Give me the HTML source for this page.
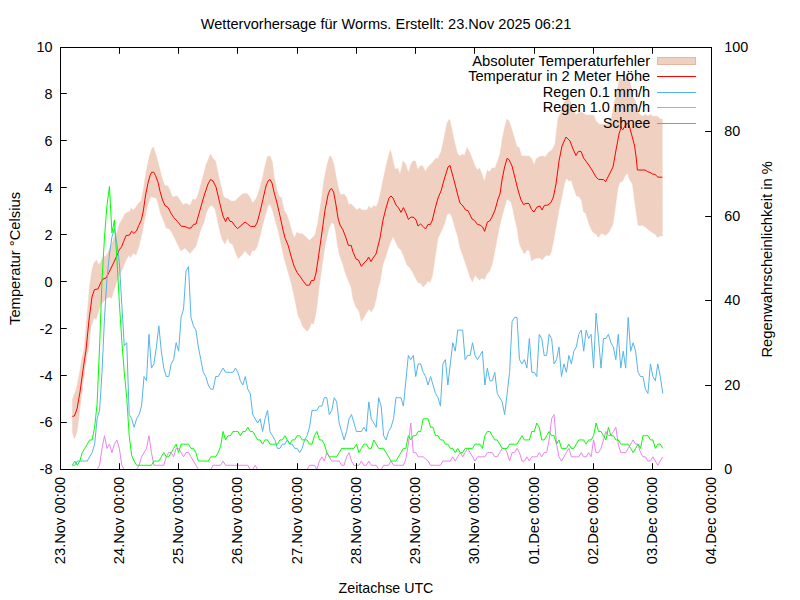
<!DOCTYPE html>
<html><head><meta charset="utf-8"><title>Wettervorhersage</title>
<style>html,body{margin:0;padding:0;background:#fff;overflow:hidden}body{width:800px;height:600px}</style></head>
<body>
<svg width="800" height="600" viewBox="0 0 800 600" style="display:block;font-family:'Liberation Sans',sans-serif;font-size:13.90px" fill="#000">
<rect width="800" height="600" fill="#fff"/>
<polygon points="72.40,399.00 76.00,390.00 79.00,376.00 82.00,358.00 84.00,350.00 89.60,286.00 92.00,270.00 94.00,263.00 96.40,260.00 99.00,265.00 103.00,257.00 106.00,256.00 110.00,248.00 114.00,238.00 116.90,232.50 119.40,223.75 121.90,220.00 124.40,214.40 126.90,212.50 129.40,211.90 131.25,208.10 133.10,210.25 135.60,207.50 138.75,203.10 141.25,200.60 143.10,191.25 145.00,178.75 147.00,167.00 149.00,158.00 151.60,149.00 153.40,147.00 156.00,155.00 158.00,162.00 160.00,170.00 161.90,177.50 164.40,185.00 168.10,186.25 170.00,190.60 172.50,197.25 176.25,196.00 178.10,196.90 180.60,201.25 183.10,205.00 185.00,203.40 186.90,203.75 190.00,205.60 193.00,199.00 195.60,200.00 198.00,195.00 202.00,180.00 206.00,165.00 210.50,154.00 213.00,158.50 215.50,161.00 217.00,168.00 220.00,182.00 223.50,196.00 225.00,198.00 227.50,198.50 231.00,201.00 235.00,201.00 239.00,197.00 243.00,193.60 247.00,193.60 250.00,197.00 252.40,203.00 256.00,199.00 259.00,191.00 262.00,180.00 265.00,166.00 267.60,156.40 270.00,156.00 272.40,162.00 274.00,176.00 277.00,190.00 279.00,196.00 281.60,198.00 284.00,210.00 287.00,215.00 289.60,223.00 292.00,232.00 294.40,238.00 297.00,232.00 299.00,233.60 302.00,233.60 305.00,236.00 309.60,240.60 312.00,238.00 315.00,235.00 318.00,222.00 321.00,202.00 324.00,180.00 327.00,165.00 329.60,156.00 331.60,157.00 334.00,165.00 336.00,176.00 338.40,188.00 340.60,195.00 344.00,194.00 346.40,197.00 349.00,205.00 351.00,203.60 354.00,207.00 357.00,210.00 359.40,208.00 362.00,210.00 367.00,210.00 369.00,206.00 371.00,209.00 373.60,205.60 376.00,207.00 378.00,203.00 380.00,195.00 383.00,180.00 386.00,166.00 389.00,154.00 390.60,150.00 392.40,158.00 395.00,169.00 398.00,168.60 400.00,174.40 403.00,161.00 405.60,164.00 408.40,172.40 411.00,164.00 413.00,161.00 415.40,161.00 418.00,170.00 420.00,166.00 422.40,165.60 425.40,171.60 428.00,167.00 433.00,162.00 435.60,158.40 438.00,158.40 441.00,152.00 444.00,138.00 447.00,123.00 449.60,119.00 452.00,130.00 455.00,144.00 457.60,154.00 460.00,156.00 462.60,154.00 464.40,156.00 467.00,147.40 470.00,153.00 472.40,159.00 475.00,166.00 477.40,170.00 479.40,168.00 482.00,174.00 484.40,181.60 487.40,170.00 489.60,172.00 492.00,168.00 495.00,168.00 498.00,160.00 500.00,154.00 502.00,140.00 505.00,126.00 507.00,119.00 509.00,121.00 512.00,130.00 515.00,140.00 517.00,147.00 519.00,147.00 521.60,156.00 529.00,156.00 531.40,158.00 534.00,165.00 536.40,158.40 540.00,156.50 543.00,156.00 545.00,157.00 549.00,152.00 552.00,150.00 555.00,144.00 558.00,118.00 561.00,112.00 564.00,103.00 567.00,97.00 569.60,99.00 572.00,107.00 576.00,115.00 579.00,112.40 582.00,112.40 586.00,115.00 591.00,115.00 594.00,115.60 596.00,121.00 599.00,124.00 602.00,124.40 605.00,124.40 609.00,124.00 612.00,116.00 615.00,100.00 618.00,86.00 620.00,77.00 622.40,80.00 624.00,82.00 627.00,75.00 629.00,78.00 631.00,86.00 633.00,97.00 635.00,100.00 638.00,112.00 640.00,114.50 642.25,116.25 645.25,114.50 648.25,116.00 650.50,114.25 652.50,116.25 657.50,116.25 660.00,118.75 662.30,119.25 662.40,236.00 660.00,236.00 657.40,237.40 655.00,234.00 653.00,233.00 649.00,230.00 645.00,227.00 642.00,225.00 640.00,226.00 638.00,225.00 635.00,204.00 632.40,184.00 629.60,179.60 627.40,173.00 625.00,176.00 622.40,181.60 620.00,182.00 618.00,188.00 615.00,210.00 613.00,224.00 609.00,232.00 605.60,235.60 603.60,234.00 601.00,233.60 598.40,237.40 596.00,234.00 594.00,233.00 592.00,231.00 589.00,224.00 585.60,213.00 583.60,212.00 581.40,200.00 579.00,196.40 576.60,196.00 574.00,189.00 571.00,180.00 569.00,181.40 566.60,178.00 564.40,184.00 562.00,196.00 559.00,210.00 556.00,227.00 553.40,242.00 551.00,253.00 549.00,256.00 547.00,255.00 544.40,257.00 542.00,260.00 540.00,258.00 537.00,258.00 534.00,259.00 531.60,261.00 529.40,250.40 527.00,250.00 524.40,254.00 522.00,250.00 519.40,244.00 517.00,228.00 515.00,220.00 513.00,210.00 511.00,202.00 507.00,199.00 504.00,209.00 501.00,220.00 498.00,234.00 495.00,250.00 492.00,265.00 489.60,271.00 487.00,274.00 484.40,279.40 482.00,278.00 479.40,280.00 477.40,278.00 475.00,275.00 472.40,282.00 470.00,277.00 467.40,269.00 465.00,262.00 462.60,255.00 460.00,248.00 457.60,236.00 455.00,228.00 452.00,217.00 449.60,213.00 447.00,215.00 444.00,225.00 441.00,232.00 438.00,238.00 435.00,258.00 432.40,276.00 430.00,282.40 428.00,281.00 426.00,284.00 423.00,287.00 420.60,283.00 418.40,283.00 416.00,279.00 413.00,273.00 410.00,268.00 407.00,265.00 404.00,257.00 401.00,250.00 398.60,248.00 396.00,243.00 393.00,236.40 389.00,246.00 386.00,256.00 383.00,264.00 380.00,282.00 378.00,288.00 376.00,300.00 374.00,307.00 371.40,312.00 369.00,309.00 367.00,312.00 364.00,317.00 361.40,321.60 359.00,311.00 356.00,307.00 353.00,299.00 351.00,287.00 348.00,280.00 345.00,272.00 342.40,263.00 339.40,255.00 337.00,242.00 336.00,234.00 334.00,224.00 331.60,222.60 329.00,228.00 328.00,232.00 325.00,246.00 322.00,266.00 319.00,288.00 317.00,306.00 315.00,318.00 313.40,324.00 311.40,323.00 310.00,327.00 307.40,331.40 305.00,329.00 302.40,326.00 300.00,319.00 298.00,316.00 295.00,300.00 291.00,282.00 288.00,272.00 284.00,258.00 281.00,244.00 278.00,230.00 275.00,220.00 272.40,210.00 270.00,204.00 268.00,206.00 265.00,216.00 262.00,228.00 259.00,240.00 257.00,247.00 254.40,251.00 252.40,250.00 250.00,256.00 247.60,254.00 245.00,250.60 242.00,255.00 238.00,258.60 235.00,251.00 232.40,244.00 229.60,243.00 227.60,238.00 225.00,244.00 222.40,240.00 220.00,232.00 215.00,209.00 212.00,205.00 209.00,207.00 206.00,214.00 204.00,222.00 200.00,232.00 196.00,246.00 190.00,253.60 185.00,248.00 181.00,251.00 178.00,245.00 175.00,239.00 172.50,233.75 169.40,228.75 166.25,228.10 163.75,221.25 160.60,213.75 158.10,203.75 156.25,198.10 153.10,197.50 151.25,196.25 149.75,199.00 147.50,206.25 145.00,217.50 142.50,231.25 139.00,246.00 136.00,255.00 133.00,253.00 130.40,258.00 129.00,255.00 126.00,260.00 122.00,270.00 120.00,274.00 117.00,281.00 114.00,290.00 111.50,298.50 109.50,297.00 107.00,298.00 104.00,301.00 101.00,304.00 98.50,312.00 96.00,319.50 94.00,318.00 91.00,327.00 88.40,350.00 87.00,356.00 84.00,376.00 81.00,400.00 79.00,416.00 77.00,432.00 74.40,439.00 72.40,432.00" fill="#f0d0c0" stroke="#f0d0c0" stroke-width="0.4"/>
<polyline points="72.40,416.40 74.40,416.00 77.00,409.00 80.00,392.00 83.00,370.00 86.00,350.00 89.00,320.00 92.00,297.00 94.40,289.60 98.00,289.00 101.00,282.00 103.00,279.00 106.00,278.00 109.00,272.40 114.00,262.00 118.00,253.00 119.20,249.80 121.60,246.80 123.60,241.60 126.10,235.50 129.50,235.10 131.60,231.25 133.90,233.30 136.50,231.00 138.75,225.60 141.40,219.80 143.30,211.00 145.60,195.00 148.10,182.50 150.00,175.60 151.60,172.25 153.75,172.25 155.60,175.60 158.10,182.50 160.00,191.25 162.50,200.00 165.00,205.60 168.10,207.50 171.25,213.75 173.75,217.50 177.50,221.50 181.25,226.25 185.00,226.50 188.10,228.10 191.00,228.00 193.60,224.40 196.00,224.00 200.00,210.00 204.00,196.00 208.00,184.00 210.60,179.40 213.00,181.00 216.00,187.00 220.00,204.00 223.00,216.00 225.60,221.60 227.60,217.00 230.00,221.40 232.00,221.60 235.00,226.00 237.60,228.60 241.00,225.60 245.00,222.00 247.60,224.00 250.40,226.40 255.00,226.40 257.00,223.00 260.00,212.00 263.00,199.00 266.00,186.00 268.00,181.00 270.00,179.40 272.00,183.00 274.00,192.00 277.00,203.00 280.00,216.00 283.00,230.00 285.00,238.00 288.00,245.00 291.00,256.00 294.00,266.00 297.00,272.40 300.00,276.40 303.60,281.60 306.40,285.20 309.40,285.20 311.40,280.40 314.00,280.40 316.00,273.00 318.00,260.00 320.00,246.00 322.40,229.00 325.00,210.00 328.00,195.00 330.00,189.60 331.60,188.60 333.60,192.00 336.00,205.00 338.00,218.00 340.00,225.00 343.00,230.00 346.00,238.00 348.40,245.40 351.20,245.40 353.00,252.00 356.00,259.00 358.40,260.00 361.40,266.40 364.00,263.00 367.00,260.00 368.60,257.00 371.00,261.60 373.00,258.00 376.00,254.00 378.00,246.00 380.00,238.00 383.00,220.00 386.00,208.00 389.00,198.00 391.00,196.00 393.00,198.00 396.00,205.00 398.60,208.00 401.00,212.40 403.40,207.60 406.00,213.00 408.40,219.40 411.00,217.00 414.00,217.40 416.00,220.00 418.00,226.00 420.60,224.00 423.00,226.40 425.60,229.00 428.00,224.40 430.40,224.40 432.40,220.00 435.00,209.00 438.00,198.00 441.00,191.00 444.00,180.00 448.00,167.00 450.00,165.40 452.00,173.00 455.00,184.00 458.00,196.00 460.00,203.00 463.00,206.00 465.60,210.00 468.00,210.60 472.00,219.00 474.40,220.40 477.40,224.40 480.00,225.00 482.60,227.00 484.60,231.40 487.40,222.00 489.60,221.00 492.00,217.00 495.00,210.00 498.00,199.00 500.00,194.00 502.00,180.00 504.40,168.00 507.00,158.40 509.00,159.60 512.00,166.00 515.00,178.00 518.00,190.00 521.00,200.00 523.60,204.60 526.00,203.40 529.00,203.60 531.60,209.60 534.00,212.00 537.00,207.00 540.00,206.00 542.00,210.00 544.40,205.40 548.00,205.00 551.00,202.40 553.40,197.00 556.00,184.00 559.00,161.00 562.00,146.00 566.00,137.00 570.00,141.00 573.00,149.00 576.00,155.60 578.40,151.40 581.00,151.40 583.60,158.00 588.00,164.00 592.00,170.00 596.00,177.00 598.40,179.40 603.60,179.60 605.60,181.60 609.00,175.00 613.00,167.00 616.00,150.00 619.00,134.00 621.00,127.60 622.60,130.00 625.00,126.00 627.40,123.00 629.00,125.00 632.00,136.00 634.60,146.00 636.00,156.00 637.40,170.00 645.00,170.00 647.40,171.60 650.00,172.40 652.60,174.00 655.00,174.40 658.00,177.20 662.40,177.20" fill="none" stroke="#ff0000" stroke-width="1.00" stroke-linejoin="round" stroke-linecap="butt"/>
<polyline points="72.40,465.27 74.87,465.27 77.34,461.05 79.81,461.05 82.28,461.05 84.75,461.05 87.22,461.05 89.69,456.82 92.16,452.60 94.63,444.15 97.10,418.80 99.57,410.35 102.04,372.32 104.51,317.40 106.98,279.38 109.45,254.03 111.92,237.13 114.39,228.68 116.86,243.46 119.33,262.48 121.80,304.73 124.27,345.71 126.74,342.75 129.21,414.57 131.68,418.80 134.15,427.25 136.62,418.80 139.09,414.57 141.56,406.12 144.03,376.55 146.50,380.77 148.97,334.30 151.44,368.10 153.91,363.88 156.38,346.98 158.85,325.85 161.32,351.20 163.79,368.10 166.26,376.55 168.73,376.55 171.20,363.88 173.67,359.65 176.14,342.75 178.61,351.20 181.08,317.40 183.55,308.95 186.02,270.93 188.49,266.70 190.96,317.40 193.43,325.85 195.90,330.08 198.37,346.98 200.84,359.65 203.31,372.32 205.78,376.55 208.25,385.00 210.72,389.23 213.19,389.23 215.67,376.55 218.14,376.55 220.61,372.32 223.08,368.10 225.55,372.32 228.02,372.32 230.49,372.32 232.96,372.32 235.43,368.10 237.90,372.32 240.37,380.77 242.84,385.00 245.31,376.55 247.78,389.23 250.25,393.45 252.72,414.57 255.19,418.80 257.66,423.02 260.13,418.80 262.60,431.48 265.07,418.80 267.54,410.35 270.01,431.48 272.48,435.70 274.95,439.93 277.42,448.38 279.89,448.38 282.36,444.15 284.83,444.15 287.30,439.93 289.77,444.15 292.24,444.15 294.71,448.38 297.18,448.38 299.65,452.60 302.12,448.38 304.59,439.93 307.06,435.70 309.53,427.25 312.00,410.35 314.47,410.35 316.94,410.35 319.41,406.12 321.88,406.12 324.35,397.68 326.82,397.68 329.29,414.57 331.76,410.35 334.23,397.68 336.70,401.90 339.17,423.02 341.64,431.48 344.11,439.93 346.58,431.48 349.05,418.80 351.52,414.57 353.99,423.02 356.46,431.48 358.93,431.48 361.40,431.48 363.87,427.25 366.34,431.48 368.81,401.90 371.28,418.80 373.75,423.02 376.22,427.25 378.69,397.68 381.16,406.12 383.63,435.70 386.10,439.93 388.57,431.48 391.04,427.25 393.51,418.80 395.98,397.68 398.45,397.68 400.92,397.68 403.39,406.12 405.86,380.77 408.33,355.43 410.80,359.65 413.27,355.43 415.74,376.55 418.21,363.88 420.68,363.88 423.15,372.32 425.62,376.55 428.09,385.00 430.56,376.55 433.03,385.00 435.50,393.45 437.97,397.68 440.44,406.12 442.91,363.88 445.38,359.65 447.85,385.00 450.32,363.88 452.79,342.75 455.26,351.20 457.73,330.08 460.20,330.08 462.67,330.08 465.14,359.65 467.61,355.43 470.08,355.43 472.55,342.75 475.02,355.43 477.49,359.65 479.96,355.43 482.43,351.20 484.90,385.00 487.37,368.10 489.84,380.77 492.31,380.77 494.78,372.32 497.25,393.45 499.72,397.68 502.19,401.90 504.66,414.57 507.13,393.45 509.60,372.32 512.07,321.62 514.54,317.40 517.01,317.40 519.48,359.65 521.95,363.88 524.43,359.65 526.90,368.10 529.37,338.52 531.84,372.32 534.31,372.32 536.78,376.55 539.25,334.30 541.72,338.52 544.19,355.43 546.66,355.43 549.13,334.30 551.60,338.52 554.07,363.88 556.54,359.65 559.01,346.98 561.48,376.55 563.95,363.88 566.42,372.32 568.89,355.43 571.36,363.88 573.83,351.20 576.30,346.98 578.77,334.30 581.24,330.08 583.71,351.20 586.18,330.08 588.65,338.52 591.12,334.30 593.59,368.10 596.06,313.18 598.53,338.52 601.00,368.10 603.47,338.52 605.94,338.52 608.41,334.30 610.88,342.75 613.35,346.98 615.82,359.65 618.29,334.30 620.76,368.10 623.23,351.20 625.70,368.10 628.17,317.40 630.64,351.20 633.11,342.75 635.58,351.20 638.05,372.32 640.52,376.55 642.99,376.55 645.46,389.23 647.93,393.45 650.40,363.88 652.87,376.55 655.34,380.77 657.81,363.88 660.28,376.55 662.75,393.45" fill="none" stroke="#56b4e9" stroke-width="1.00" stroke-linejoin="round" stroke-linecap="butt"/>
<polyline points="72.40,469.50 74.87,469.50 77.34,469.50 79.81,469.50 82.28,469.50 84.75,469.50 87.22,469.50 89.69,469.50 92.16,469.50 94.63,469.50 97.10,469.50 99.57,465.27 102.04,448.38 104.51,435.70 106.98,448.38 109.45,444.15 111.92,452.60 114.39,444.15 116.86,439.93 119.33,448.38 121.80,465.27 124.27,469.50 126.74,469.50 129.21,469.50 131.68,469.50 134.15,469.50 136.62,469.50 139.09,465.27 141.56,456.82 144.03,452.60 146.50,448.38 148.97,435.70 151.44,452.60 153.91,465.27 156.38,465.27 158.85,465.27 161.32,465.27 163.79,465.27 166.26,456.82 168.73,452.60 171.20,452.60 173.67,456.82 176.14,448.38 178.61,448.38 181.08,452.60 183.55,456.82 186.02,452.60 188.49,452.60 190.96,456.82 193.43,461.05 195.90,465.27 198.37,469.50 200.84,469.50 203.31,469.50 205.78,469.50 208.25,469.50 210.72,469.50 213.19,465.27 215.67,465.27 218.14,465.27 220.61,465.27 223.08,461.05 225.55,465.27 228.02,465.27 230.49,465.27 232.96,465.27 235.43,465.27 237.90,465.27 240.37,465.27 242.84,465.27 245.31,465.27 247.78,465.27 250.25,469.50 252.72,469.50 255.19,465.27 257.66,469.50 260.13,469.50 262.60,469.50 265.07,469.50 267.54,469.50 270.01,469.50 272.48,469.50 274.95,469.50 277.42,469.50 279.89,469.50 282.36,469.50 284.83,469.50 287.30,469.50 289.77,469.50 292.24,469.50 294.71,469.50 297.18,469.50 299.65,469.50 302.12,469.50 304.59,469.50 307.06,469.50 309.53,465.27 312.00,465.27 314.47,465.27 316.94,469.50 319.41,461.05 321.88,456.82 324.35,461.05 326.82,452.60 329.29,456.82 331.76,461.05 334.23,461.05 336.70,461.05 339.17,461.05 341.64,465.27 344.11,465.27 346.58,456.82 349.05,452.60 351.52,461.05 353.99,465.27 356.46,465.27 358.93,465.27 361.40,461.05 363.87,465.27 366.34,465.27 368.81,461.05 371.28,465.27 373.75,465.27 376.22,465.27 378.69,469.50 381.16,469.50 383.63,465.27 386.10,465.27 388.57,465.27 391.04,461.05 393.51,465.27 395.98,465.27 398.45,465.27 400.92,465.27 403.39,465.27 405.86,458.94 408.33,444.15 410.80,423.02 413.27,452.60 415.74,452.60 418.21,456.82 420.68,456.82 423.15,456.82 425.62,458.94 428.09,461.05 430.56,465.27 433.03,465.27 435.50,465.27 437.97,465.27 440.44,465.27 442.91,461.05 445.38,461.05 447.85,461.05 450.32,461.05 452.79,456.82 455.26,461.05 457.73,456.82 460.20,452.60 462.67,456.82 465.14,452.60 467.61,448.38 470.08,452.60 472.55,456.82 475.02,461.05 477.49,456.82 479.96,456.82 482.43,456.82 484.90,456.82 487.37,452.60 489.84,452.60 492.31,452.60 494.78,456.82 497.25,456.82 499.72,452.60 502.19,448.38 504.66,448.38 507.13,452.60 509.60,461.05 512.07,452.60 514.54,452.60 517.01,448.38 519.48,452.60 521.95,461.05 524.43,461.05 526.90,456.82 529.37,461.05 531.84,456.82 534.31,456.82 536.78,456.82 539.25,452.60 541.72,456.82 544.19,452.60 546.66,452.60 549.13,439.93 551.60,418.80 554.07,414.57 556.54,444.15 559.01,456.82 561.48,461.05 563.95,456.82 566.42,452.60 568.89,448.38 571.36,456.82 573.83,456.82 576.30,456.82 578.77,456.82 581.24,452.60 583.71,456.82 586.18,456.82 588.65,452.60 591.12,456.82 593.59,439.93 596.06,452.60 598.53,452.60 601.00,448.38 603.47,439.93 605.94,431.48 608.41,435.70 610.88,435.70 613.35,431.48 615.82,427.25 618.29,444.15 620.76,452.60 623.23,452.60 625.70,452.60 628.17,448.38 630.64,444.15 633.11,439.93 635.58,444.15 638.05,444.15 640.52,452.60 642.99,456.82 645.46,456.82 647.93,461.05 650.40,461.05 652.87,456.82 655.34,461.05 657.81,465.27 660.28,461.05 662.75,456.82" fill="none" stroke="#ee82ee" stroke-width="1.00" stroke-linejoin="round" stroke-linecap="butt"/>
<polyline points="72.40,465.27 74.87,461.05 77.34,465.27 79.81,461.05 82.28,452.60 84.75,448.38 87.22,444.15 89.69,439.93 92.16,439.93 94.63,427.25 97.10,404.01 99.57,346.98 102.04,279.38 104.51,237.13 106.98,205.44 109.45,186.43 111.92,232.90 114.39,220.23 116.86,258.25 119.33,302.61 121.80,340.64 124.27,372.32 126.74,397.68 129.21,435.70 131.68,455.56 134.15,461.05 136.62,465.27 139.09,465.27 141.56,465.27 144.03,465.27 146.50,465.27 148.97,465.27 151.44,465.27 153.91,461.05 156.38,461.05 158.85,461.05 161.32,456.82 163.79,452.60 166.26,456.82 168.73,456.82 171.20,452.60 173.67,448.38 176.14,444.15 178.61,452.60 181.08,444.15 183.55,444.15 186.02,444.15 188.49,444.15 190.96,448.38 193.43,448.38 195.90,452.60 198.37,461.05 200.84,461.05 203.31,461.05 205.78,461.05 208.25,461.05 210.72,456.82 213.19,456.82 215.67,456.82 218.14,452.60 220.61,446.26 223.08,431.48 225.55,439.93 228.02,435.70 230.49,435.70 232.96,431.48 235.43,431.48 237.90,431.48 240.37,435.70 242.84,431.48 245.31,431.48 247.78,427.25 250.25,431.48 252.72,431.48 255.19,435.70 257.66,439.93 260.13,439.93 262.60,444.15 265.07,439.93 267.54,439.93 270.01,444.15 272.48,444.15 274.95,444.15 277.42,444.15 279.89,439.93 282.36,439.93 284.83,435.70 287.30,439.93 289.77,444.15 292.24,439.93 294.71,439.93 297.18,435.70 299.65,435.70 302.12,439.93 304.59,439.93 307.06,439.93 309.53,444.15 312.00,444.15 314.47,435.70 316.94,431.48 319.41,439.93 321.88,439.93 324.35,444.15 326.82,452.60 329.29,456.82 331.76,456.82 334.23,456.82 336.70,456.82 339.17,452.60 341.64,448.38 344.11,448.38 346.58,448.38 349.05,448.38 351.52,448.38 353.99,448.38 356.46,444.15 358.93,452.60 361.40,448.38 363.87,444.15 366.34,444.15 368.81,448.38 371.28,448.38 373.75,439.93 376.22,444.15 378.69,448.38 381.16,448.38 383.63,448.38 386.10,452.60 388.57,456.82 391.04,461.05 393.51,461.05 395.98,461.05 398.45,456.82 400.92,452.60 403.39,448.38 405.86,448.38 408.33,435.70 410.80,439.93 413.27,435.70 415.74,435.70 418.21,431.48 420.68,431.48 423.15,418.80 425.62,418.80 428.09,418.80 430.56,427.25 433.03,427.25 435.50,435.70 437.97,435.70 440.44,439.93 442.91,439.93 445.38,444.15 447.85,444.15 450.32,448.38 452.79,448.38 455.26,452.60 457.73,448.38 460.20,452.60 462.67,452.60 465.14,448.38 467.61,448.38 470.08,448.38 472.55,448.38 475.02,444.15 477.49,444.15 479.96,444.15 482.43,448.38 484.90,435.70 487.37,431.48 489.84,431.48 492.31,435.70 494.78,439.93 497.25,439.93 499.72,444.15 502.19,448.38 504.66,448.38 507.13,448.38 509.60,444.15 512.07,444.15 514.54,444.15 517.01,444.15 519.48,439.93 521.95,435.70 524.43,439.93 526.90,439.93 529.37,439.93 531.84,431.48 534.31,431.48 536.78,423.02 539.25,427.25 541.72,439.93 544.19,439.93 546.66,435.70 549.13,431.48 551.60,435.70 554.07,435.70 556.54,444.15 559.01,439.93 561.48,448.38 563.95,448.38 566.42,448.38 568.89,444.15 571.36,448.38 573.83,448.38 576.30,444.15 578.77,439.93 581.24,439.93 583.71,439.93 586.18,444.15 588.65,439.93 591.12,439.93 593.59,435.70 596.06,423.02 598.53,431.48 601.00,431.48 603.47,435.70 605.94,439.93 608.41,427.25 610.88,435.70 613.35,435.70 615.82,439.93 618.29,439.93 620.76,444.15 623.23,444.15 625.70,444.15 628.17,444.15 630.64,448.38 633.11,452.60 635.58,448.38 638.05,444.15 640.52,448.38 642.99,435.70 645.46,435.70 647.93,435.70 650.40,439.93 652.87,439.93 655.34,448.38 657.81,444.15 660.28,444.15 662.75,448.38" fill="none" stroke="#00ff00" stroke-width="1.00" stroke-linejoin="round" stroke-linecap="butt"/>
<rect x="657.5" y="57.5" width="38" height="7" fill="#f0d0c0" stroke="#e6b8a0" stroke-width="1"/>
<line x1="657" y1="76.5" x2="696" y2="76.5" stroke="#ff0000" stroke-width="1"/>
<line x1="657" y1="92.5" x2="696" y2="92.5" stroke="#56b4e9" stroke-width="1"/>
<line x1="657" y1="107.5" x2="696" y2="107.5" stroke="#ee82ee" stroke-width="1"/>
<line x1="657" y1="123.5" x2="696" y2="123.5" stroke="#00ff00" stroke-width="1"/>
<text x="650.20" y="65.70" text-anchor="end" textLength="178.00" lengthAdjust="spacingAndGlyphs">Absoluter Temperaturfehler</text>
<text x="650.20" y="81.20" text-anchor="end" textLength="182.00" lengthAdjust="spacingAndGlyphs">Temperatur in 2 Meter Höhe</text>
<text x="650.20" y="97.20" text-anchor="end" textLength="107.40" lengthAdjust="spacingAndGlyphs">Regen 0.1 mm/h</text>
<text x="650.20" y="112.20" text-anchor="end" textLength="107.40" lengthAdjust="spacingAndGlyphs">Regen 1.0 mm/h</text>
<text x="650.20" y="128.20" text-anchor="end" textLength="47.20" lengthAdjust="spacingAndGlyphs">Schnee</text>
<rect x="60.5" y="47.5" width="651.0" height="422.0" fill="none" stroke="#000" stroke-width="1"/>
<path d="M60.50 469.5v-6.3M60.50 47.5v6.3M119.50 469.5v-6.3M119.50 47.5v6.3M178.50 469.5v-6.3M178.50 47.5v6.3M237.50 469.5v-6.3M237.50 47.5v6.3M297.50 469.5v-6.3M297.50 47.5v6.3M356.50 469.5v-6.3M356.50 47.5v6.3M415.50 469.5v-6.3M415.50 47.5v6.3M474.50 469.5v-6.3M474.50 47.5v6.3M534.50 469.5v-6.3M534.50 47.5v6.3M593.50 469.5v-6.3M593.50 47.5v6.3M652.50 469.5v-6.3M652.50 47.5v6.3M711.50 469.5v-6.3M711.50 47.5v6.3M60.5 47.50h6.3M60.5 93.50h6.3M60.5 140.50h6.3M60.5 187.50h6.3M60.5 234.50h6.3M60.5 281.50h6.3M60.5 328.50h6.3M60.5 375.50h6.3M60.5 422.50h6.3M60.5 469.50h6.3M711.5 47.50h-6.3M711.5 131.50h-6.3M711.5 216.50h-6.3M711.5 300.50h-6.3M711.5 385.50h-6.3M711.5 469.50h-6.3" stroke="#000" stroke-width="1" fill="none"/>
<text x="52.60" y="52.00" text-anchor="end" textLength="16.00" lengthAdjust="spacingAndGlyphs">10</text>
<text x="52.60" y="99.00" text-anchor="end" textLength="8.00" lengthAdjust="spacingAndGlyphs">8</text>
<text x="52.60" y="146.00" text-anchor="end" textLength="8.00" lengthAdjust="spacingAndGlyphs">6</text>
<text x="52.60" y="193.00" text-anchor="end" textLength="8.00" lengthAdjust="spacingAndGlyphs">4</text>
<text x="52.60" y="240.00" text-anchor="end" textLength="8.00" lengthAdjust="spacingAndGlyphs">2</text>
<text x="52.60" y="287.00" text-anchor="end" textLength="8.00" lengthAdjust="spacingAndGlyphs">0</text>
<text x="52.60" y="334.00" text-anchor="end" textLength="13.00" lengthAdjust="spacingAndGlyphs">-2</text>
<text x="52.60" y="381.00" text-anchor="end" textLength="13.00" lengthAdjust="spacingAndGlyphs">-4</text>
<text x="52.60" y="427.00" text-anchor="end" textLength="13.00" lengthAdjust="spacingAndGlyphs">-6</text>
<text x="52.60" y="474.00" text-anchor="end" textLength="13.00" lengthAdjust="spacingAndGlyphs">-8</text>
<text x="724.30" y="52.00" text-anchor="start" textLength="24.00" lengthAdjust="spacingAndGlyphs">100</text>
<text x="724.30" y="136.00" text-anchor="start" textLength="16.00" lengthAdjust="spacingAndGlyphs">80</text>
<text x="724.30" y="221.00" text-anchor="start" textLength="16.00" lengthAdjust="spacingAndGlyphs">60</text>
<text x="724.30" y="305.00" text-anchor="start" textLength="16.00" lengthAdjust="spacingAndGlyphs">40</text>
<text x="724.30" y="390.00" text-anchor="start" textLength="16.00" lengthAdjust="spacingAndGlyphs">20</text>
<text x="724.30" y="474.00" text-anchor="start" textLength="8.00" lengthAdjust="spacingAndGlyphs">0</text>
<text x="65.20" y="476.70" text-anchor="end" textLength="87.50" lengthAdjust="spacingAndGlyphs" transform="rotate(-90 65.20 476.70)">23.Nov 00:00</text>
<text x="124.20" y="476.70" text-anchor="end" textLength="87.50" lengthAdjust="spacingAndGlyphs" transform="rotate(-90 124.20 476.70)">24.Nov 00:00</text>
<text x="183.20" y="476.70" text-anchor="end" textLength="87.50" lengthAdjust="spacingAndGlyphs" transform="rotate(-90 183.20 476.70)">25.Nov 00:00</text>
<text x="242.20" y="476.70" text-anchor="end" textLength="87.50" lengthAdjust="spacingAndGlyphs" transform="rotate(-90 242.20 476.70)">26.Nov 00:00</text>
<text x="302.20" y="476.70" text-anchor="end" textLength="87.50" lengthAdjust="spacingAndGlyphs" transform="rotate(-90 302.20 476.70)">27.Nov 00:00</text>
<text x="361.20" y="476.70" text-anchor="end" textLength="87.50" lengthAdjust="spacingAndGlyphs" transform="rotate(-90 361.20 476.70)">28.Nov 00:00</text>
<text x="420.20" y="476.70" text-anchor="end" textLength="87.50" lengthAdjust="spacingAndGlyphs" transform="rotate(-90 420.20 476.70)">29.Nov 00:00</text>
<text x="479.20" y="476.70" text-anchor="end" textLength="87.50" lengthAdjust="spacingAndGlyphs" transform="rotate(-90 479.20 476.70)">30.Nov 00:00</text>
<text x="539.20" y="476.70" text-anchor="end" textLength="87.50" lengthAdjust="spacingAndGlyphs" transform="rotate(-90 539.20 476.70)">01.Dec 00:00</text>
<text x="598.20" y="476.70" text-anchor="end" textLength="87.50" lengthAdjust="spacingAndGlyphs" transform="rotate(-90 598.20 476.70)">02.Dec 00:00</text>
<text x="657.20" y="476.70" text-anchor="end" textLength="87.50" lengthAdjust="spacingAndGlyphs" transform="rotate(-90 657.20 476.70)">03.Dec 00:00</text>
<text x="716.20" y="476.70" text-anchor="end" textLength="87.50" lengthAdjust="spacingAndGlyphs" transform="rotate(-90 716.20 476.70)">04.Dec 00:00</text>
<text x="386.00" y="28.60" text-anchor="middle" textLength="370.50" lengthAdjust="spacingAndGlyphs">Wettervorhersage für Worms. Erstellt: 23.Nov 2025 06:21</text>
<text x="386.00" y="593.30" text-anchor="middle" textLength="94.80" lengthAdjust="spacingAndGlyphs">Zeitachse UTC</text>
<text x="19.60" y="258.50" text-anchor="middle" textLength="133.00" lengthAdjust="spacingAndGlyphs" transform="rotate(-90 19.60 258.50)">Temperatur °Celsius</text>
<text x="771.60" y="259.30" text-anchor="middle" textLength="196.50" lengthAdjust="spacingAndGlyphs" transform="rotate(-90 771.60 259.30)">Regenwahrscheinlichkeit in %</text>
</svg>
</body></html>
